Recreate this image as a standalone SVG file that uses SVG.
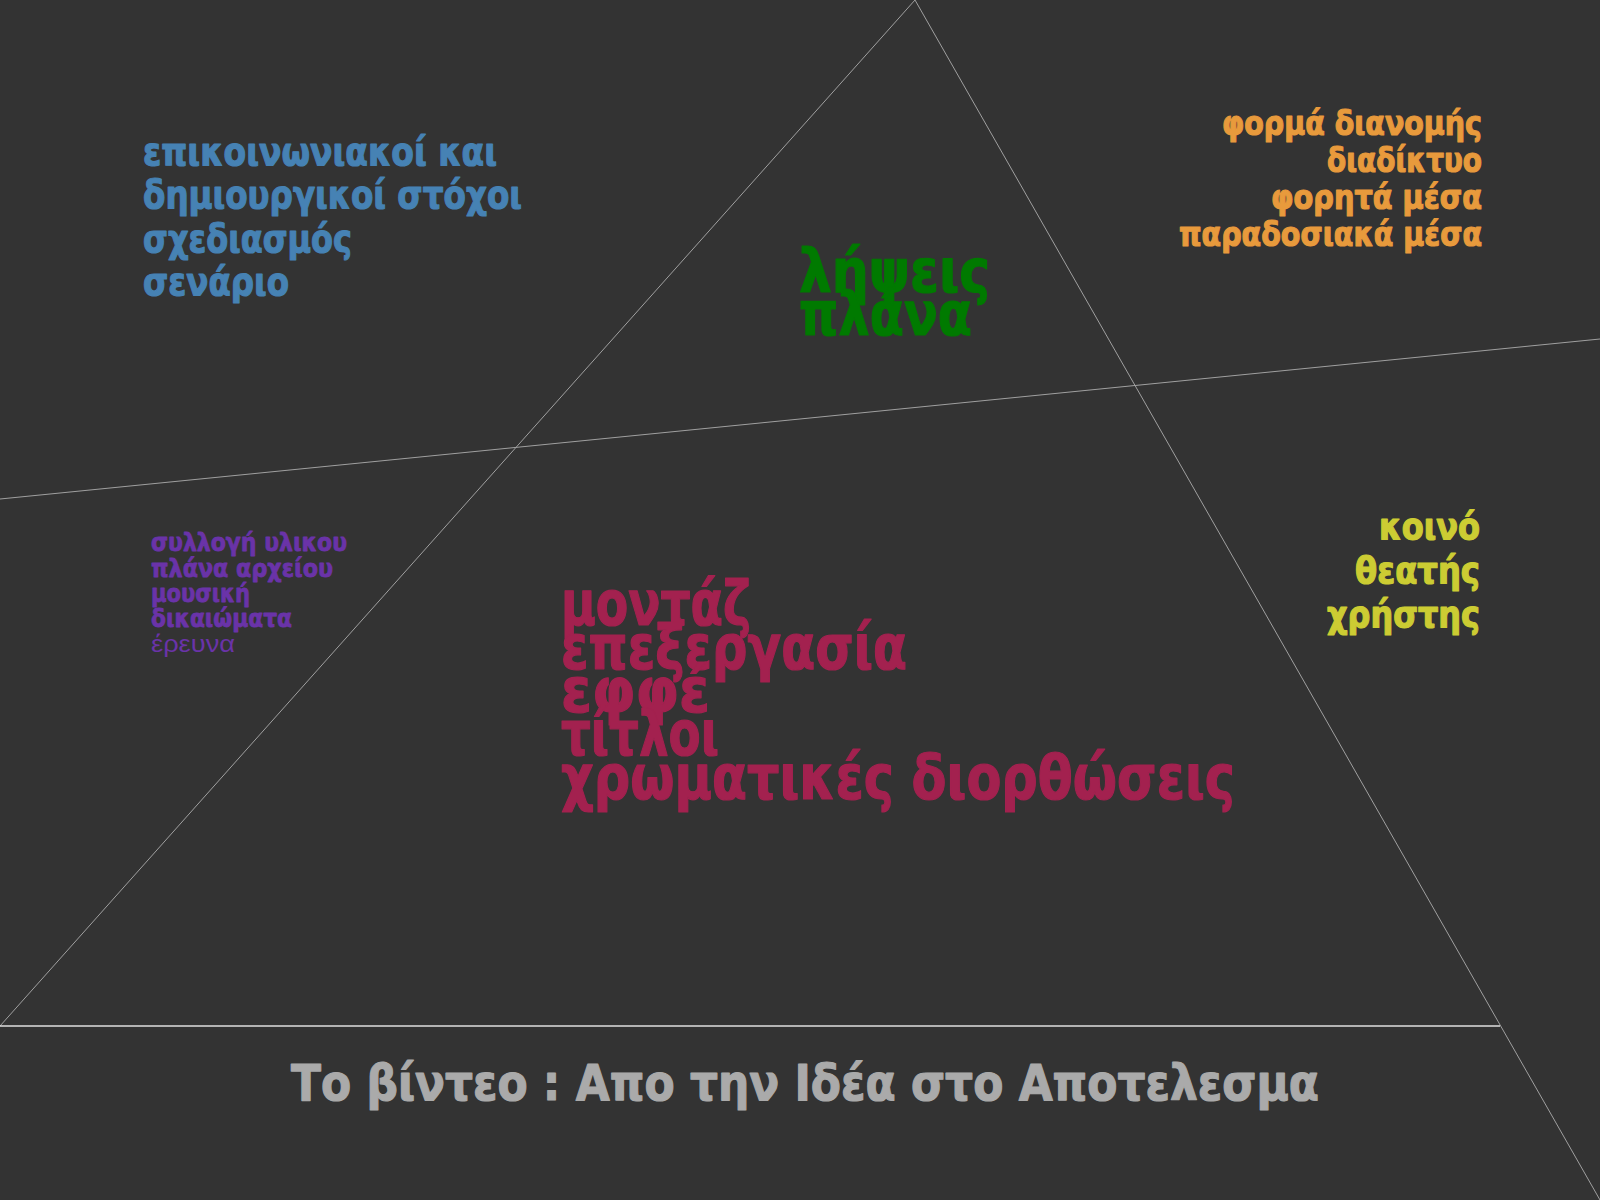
<svg xmlns="http://www.w3.org/2000/svg" width="1600" height="1200" viewBox="0 0 1600 1200">
<style>
.ln{stroke:#a0a0a0;stroke-width:1;fill:none}
.base{stroke:#e0e0e0;stroke-width:1.6}
.w{font-family:"DejaVu Sans","Liberation Sans",sans-serif;font-weight:bold}
.c{font-family:"DejaVu Sans Condensed","DejaVu Sans","Liberation Sans",sans-serif;font-weight:bold}
.hv{stroke-width:1.2;stroke-linejoin:round}
.blue{fill:#4682b4;stroke:#4682b4;font-size:39px}
.orange{fill:#e89a3c;stroke:#e89a3c;font-size:33px}
.yellow{fill:#cccc33;stroke:#cccc33;font-size:38px}
.purple{fill:#6a33a8;font-size:24px}
.pb{stroke:#6a33a8;stroke-width:0.8;stroke-linejoin:round}
.green{fill:#007a00;stroke:#007a00;font-size:60px}
.maroon{fill:#a3214f;stroke:#a3214f;font-size:62px}
.title{fill:#aaaaaa;stroke:#aaaaaa;font-size:49px}
</style>
<rect x="0" y="0" width="1600" height="1200" fill="#333333"/>
<g id="connectors">
<line class="ln" x1="915" y1="0" x2="0" y2="1026"/>
<line class="ln" x1="915" y1="0" x2="1600" y2="1200"/>
<line class="ln" x1="0" y1="499" x2="1600" y2="339"/>
<line class="base" x1="0" y1="1026" x2="1500" y2="1026"/>
</g>
<g id="planning">
<text class="w hv blue" x="143" y="165" textLength="354" lengthAdjust="spacingAndGlyphs">επικοινωνιακοί και</text>
<text class="w hv blue" x="143" y="208" textLength="379" lengthAdjust="spacingAndGlyphs">δημιουργικοί στόχοι</text>
<text class="w hv blue" x="143" y="252" textLength="209" lengthAdjust="spacingAndGlyphs">σχεδιασμός</text>
<text class="w hv blue" x="143" y="295" textLength="146" lengthAdjust="spacingAndGlyphs">σενάριο</text>
</g>
<g id="distribution">
<text class="w hv orange" x="1482" y="135" text-anchor="end" textLength="260" lengthAdjust="spacingAndGlyphs">φορμά διανομής</text>
<text class="w hv orange" x="1482" y="172" text-anchor="end" textLength="155" lengthAdjust="spacingAndGlyphs">διαδίκτυο</text>
<text class="w hv orange" x="1482" y="209" text-anchor="end" textLength="211" lengthAdjust="spacingAndGlyphs">φορητά μέσα</text>
<text class="w hv orange" x="1482" y="246" text-anchor="end" textLength="303" lengthAdjust="spacingAndGlyphs">παραδοσιακά μέσα</text>
</g>
<g id="shooting">
<text class="c hv green" x="799" y="292" textLength="191" lengthAdjust="spacingAndGlyphs">λήψεις</text>
<text class="c hv green" x="799" y="335" textLength="173" lengthAdjust="spacingAndGlyphs">πλάνα</text>
</g>
<g id="material">
<text class="w pb purple" x="151" y="551" textLength="196" lengthAdjust="spacingAndGlyphs">συλλογή υλικου</text>
<text class="w pb purple" x="151" y="577" textLength="182" lengthAdjust="spacingAndGlyphs">πλάνα αρχείου</text>
<text class="w pb purple" x="151" y="602" textLength="99" lengthAdjust="spacingAndGlyphs">μουσική</text>
<text class="w pb purple" x="151" y="627" textLength="141" lengthAdjust="spacingAndGlyphs">δικαιώματα</text>
<text class="purple" x="151" y="652" font-family="Liberation Sans, sans-serif" textLength="84" lengthAdjust="spacingAndGlyphs">έρευνα</text>
</g>
<g id="audience">
<text class="c hv yellow" x="1480" y="539" text-anchor="end" textLength="101" lengthAdjust="spacingAndGlyphs">κοινό</text>
<text class="c hv yellow" x="1480" y="583" text-anchor="end" textLength="125" lengthAdjust="spacingAndGlyphs">θεατής</text>
<text class="c hv yellow" x="1480" y="627" text-anchor="end" textLength="153" lengthAdjust="spacingAndGlyphs">χρήστης</text>
</g>
<g id="postproduction">
<text class="c hv maroon" x="561" y="625" textLength="190" lengthAdjust="spacingAndGlyphs">μοντάζ</text>
<text class="c hv maroon" x="561" y="669" textLength="346" lengthAdjust="spacingAndGlyphs">επεξεργασία</text>
<text class="c hv maroon" x="561" y="712" textLength="149" lengthAdjust="spacingAndGlyphs">εφφέ</text>
<text class="c hv maroon" x="561" y="755" textLength="158" lengthAdjust="spacingAndGlyphs">τίτλοι</text>
<text class="c hv maroon" x="561" y="799" textLength="674" lengthAdjust="spacingAndGlyphs">χρωματικές διορθώσεις</text>
</g>
<g id="title">
<text class="w hv title" x="291" y="1100" textLength="1028" lengthAdjust="spacingAndGlyphs">Το βίντεο : Απο την Ιδέα στο Αποτελεσμα</text>
</g>
</svg>
